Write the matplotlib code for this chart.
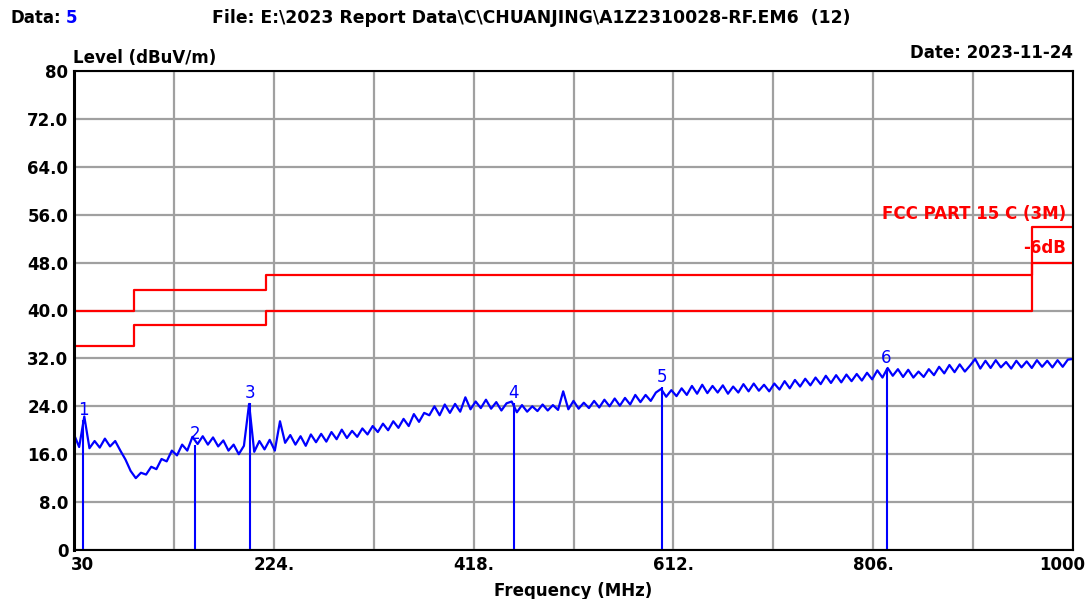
import numpy as np
import matplotlib
matplotlib.use("Agg")
import matplotlib.pyplot as plt
from matplotlib.transforms import ScaledTranslation

# Trace, 5 MHz steps from 30 to 1000 MHz
freq = np.arange(30, 1001, 5)
level = [
    19.3, 17.2, 22.3, 17.0, 18.2, 17.1, 18.6, 17.3, 18.2, 16.6,
    15.1, 13.2, 12.0, 12.9, 12.6, 13.9, 13.5, 15.2, 14.8, 16.6,
    15.8, 17.6, 16.6, 18.9, 17.7, 19.0, 17.6, 18.8, 17.3, 18.3,
    16.6, 17.6, 16.0, 17.4, 24.4, 16.4, 18.2, 16.8, 18.4, 16.6,
    21.5, 17.9, 19.2, 17.6, 19.0, 17.4, 19.3, 18.0, 19.4, 18.1,
    19.7, 18.5, 20.1, 18.7, 19.9, 18.9, 20.3, 19.3, 20.7, 19.7,
    21.1, 20.0, 21.5, 20.4, 21.9, 20.7, 22.7, 21.4, 22.9, 22.5,
    24.0, 22.5, 24.3, 22.9, 24.4, 23.1, 25.5, 23.5, 24.8, 23.7,
    25.1, 23.6, 24.7, 23.3, 24.5, 24.8, 23.0, 24.2, 23.1, 24.0,
    23.2, 24.3, 23.3, 24.2, 23.4, 26.5, 23.5, 24.9, 23.6, 24.6,
    23.7, 24.9, 23.8, 25.1, 24.0, 25.3, 24.1, 25.4, 24.3, 25.9,
    24.7, 25.9, 24.9, 26.3, 26.9, 25.6, 26.7, 25.7, 27.0, 25.9,
    27.4, 26.1, 27.6, 26.2, 27.4, 26.3, 27.5, 26.1, 27.3, 26.3,
    27.7, 26.5, 27.8, 26.6, 27.6, 26.5, 27.8, 26.8, 28.2, 27.0,
    28.4, 27.3, 28.6, 27.5, 28.8, 27.7, 29.1, 27.9, 29.2, 28.0,
    29.3, 28.2, 29.4, 28.3, 29.6, 28.5, 30.0, 28.8, 30.4, 29.1,
    30.2, 28.9, 30.1, 28.8, 29.8, 28.9, 30.2, 29.2, 30.6, 29.5,
    30.9, 29.7, 31.0, 29.8, 30.8, 31.9, 30.3, 31.6, 30.4, 31.7,
    30.5, 31.4, 30.3, 31.6, 30.5, 31.5, 30.4, 31.7, 30.6, 31.6,
    30.5, 31.7, 30.6, 31.8, 31.9,
]

# Markers
marker_no = ["1", "2", "3", "4", "5", "6"]
marker_freq = [38.7, 147.5, 200.9, 457.0, 601.0, 819.0]
marker_level = [21.7, 17.6, 24.5, 24.6, 27.2, 30.4]

# FCC Part 15 C (3M) limit and -6dB margin
limit_edges = [30, 88, 216, 960, 1000]
limit_vals = [40.0, 43.5, 46.0, 54.0, 54.0]
margin_vals = [34.0, 37.5, 40.0, 48.0, 48.0]

xticks = [30, 127, 224, 321, 418, 515, 612, 709, 806, 903, 1000]
xtick_labels = ["30", "", "224.", "", "418.", "", "612.", "", "806.", "", "1000"]
yticks = [0, 8, 16, 24, 32, 40, 48, 56, 64, 72, 80]
ytick_labels = ["0", "8.0", "16.0", "24.0", "32.0", "40.0", "48.0", "56.0", "64.0", "72.0", "80"]

plt.rcParams['font.family'] = ['DejaVu Sans']

W, H = 1091, 599
fig = plt.figure(figsize=(W / 100, H / 100), dpi=100)
ax = fig.add_axes([74 / W, 1 - 550 / H, (1073 - 74) / W, (550 - 71) / H])

ax.set_xlim(30, 1000)
ax.set_ylim(0, 80)
ax.set_xticks(xticks)
ax.set_xticklabels(xtick_labels, fontsize=12, fontweight='bold')
ax.set_yticks(yticks)
ax.set_yticklabels(ytick_labels, fontsize=12, fontweight='bold')
ax.tick_params(length=0, pad=4)
labs = ax.get_xticklabels()
labs[0].set_horizontalalignment('left')
labs[0].set_transform(labs[0].get_transform() + ScaledTranslation(-0.03, 0, fig.dpi_scale_trans))
labs[-1].set_horizontalalignment('right')
labs[-1].set_transform(labs[-1].get_transform() + ScaledTranslation(0.12, 0, fig.dpi_scale_trans))
ax.grid(True, color='#a0a0a0', linewidth=1.6)
ax.set_axisbelow(True)
for s in ax.spines.values():
    s.set_linewidth(1.5)
ax.spines['left'].set_linewidth(2.2)

# limit lines
ax.step(limit_edges, limit_vals, where='post', color='#ff0000', linewidth=1.6)
ax.step(limit_edges, margin_vals, where='post', color='#ff0000', linewidth=1.6)

# trace
ax.plot(freq, level, color='#0000ff', linewidth=1.6)

# marker lines
ax.vlines(marker_freq, 0, marker_level, color='#0000ff', linewidth=1.5)
for n, f, v in zip(marker_no, marker_freq, marker_level):
    ax.text(f, v + 0.2, n, color='#0000ff', fontsize=12, ha='center', va='bottom')

ax.text(993, 56.2, "FCC PART 15 C (3M)", color='#ff0000', fontsize=12,
        fontweight='bold', ha='right', va='center')
ax.text(993, 50.4, "-6dB", color='#ff0000', fontsize=12,
        fontweight='bold', ha='right', va='center')

ax.set_xlabel("Frequency (MHz)", fontsize=12, fontweight='bold', labelpad=6)

# header texts
fig.text(10 / W, 1 - 18 / H, "Data:", fontsize=12, fontweight='bold', va='center')
fig.text(66 / W, 1 - 18 / H, "5", fontsize=12, fontweight='bold', va='center', color='#0000ff')
fig.text(212 / W, 1 - 18 / H, "File: E:\\2023 Report Data\\C\\CHUANJING\\A1Z2310028-RF.EM6  (12)",
         fontsize=12.4, fontweight='bold', va='center')
fig.text(73 / W, 1 - 58 / H, "Level (dBuV/m)", fontsize=12, fontweight='bold', va='center')
fig.text(1073 / W, 1 - 53 / H, "Date: 2023-11-24", fontsize=12, fontweight='bold',
         va='center', ha='right')

fig.savefig("out.png", dpi=100, facecolor='white')
